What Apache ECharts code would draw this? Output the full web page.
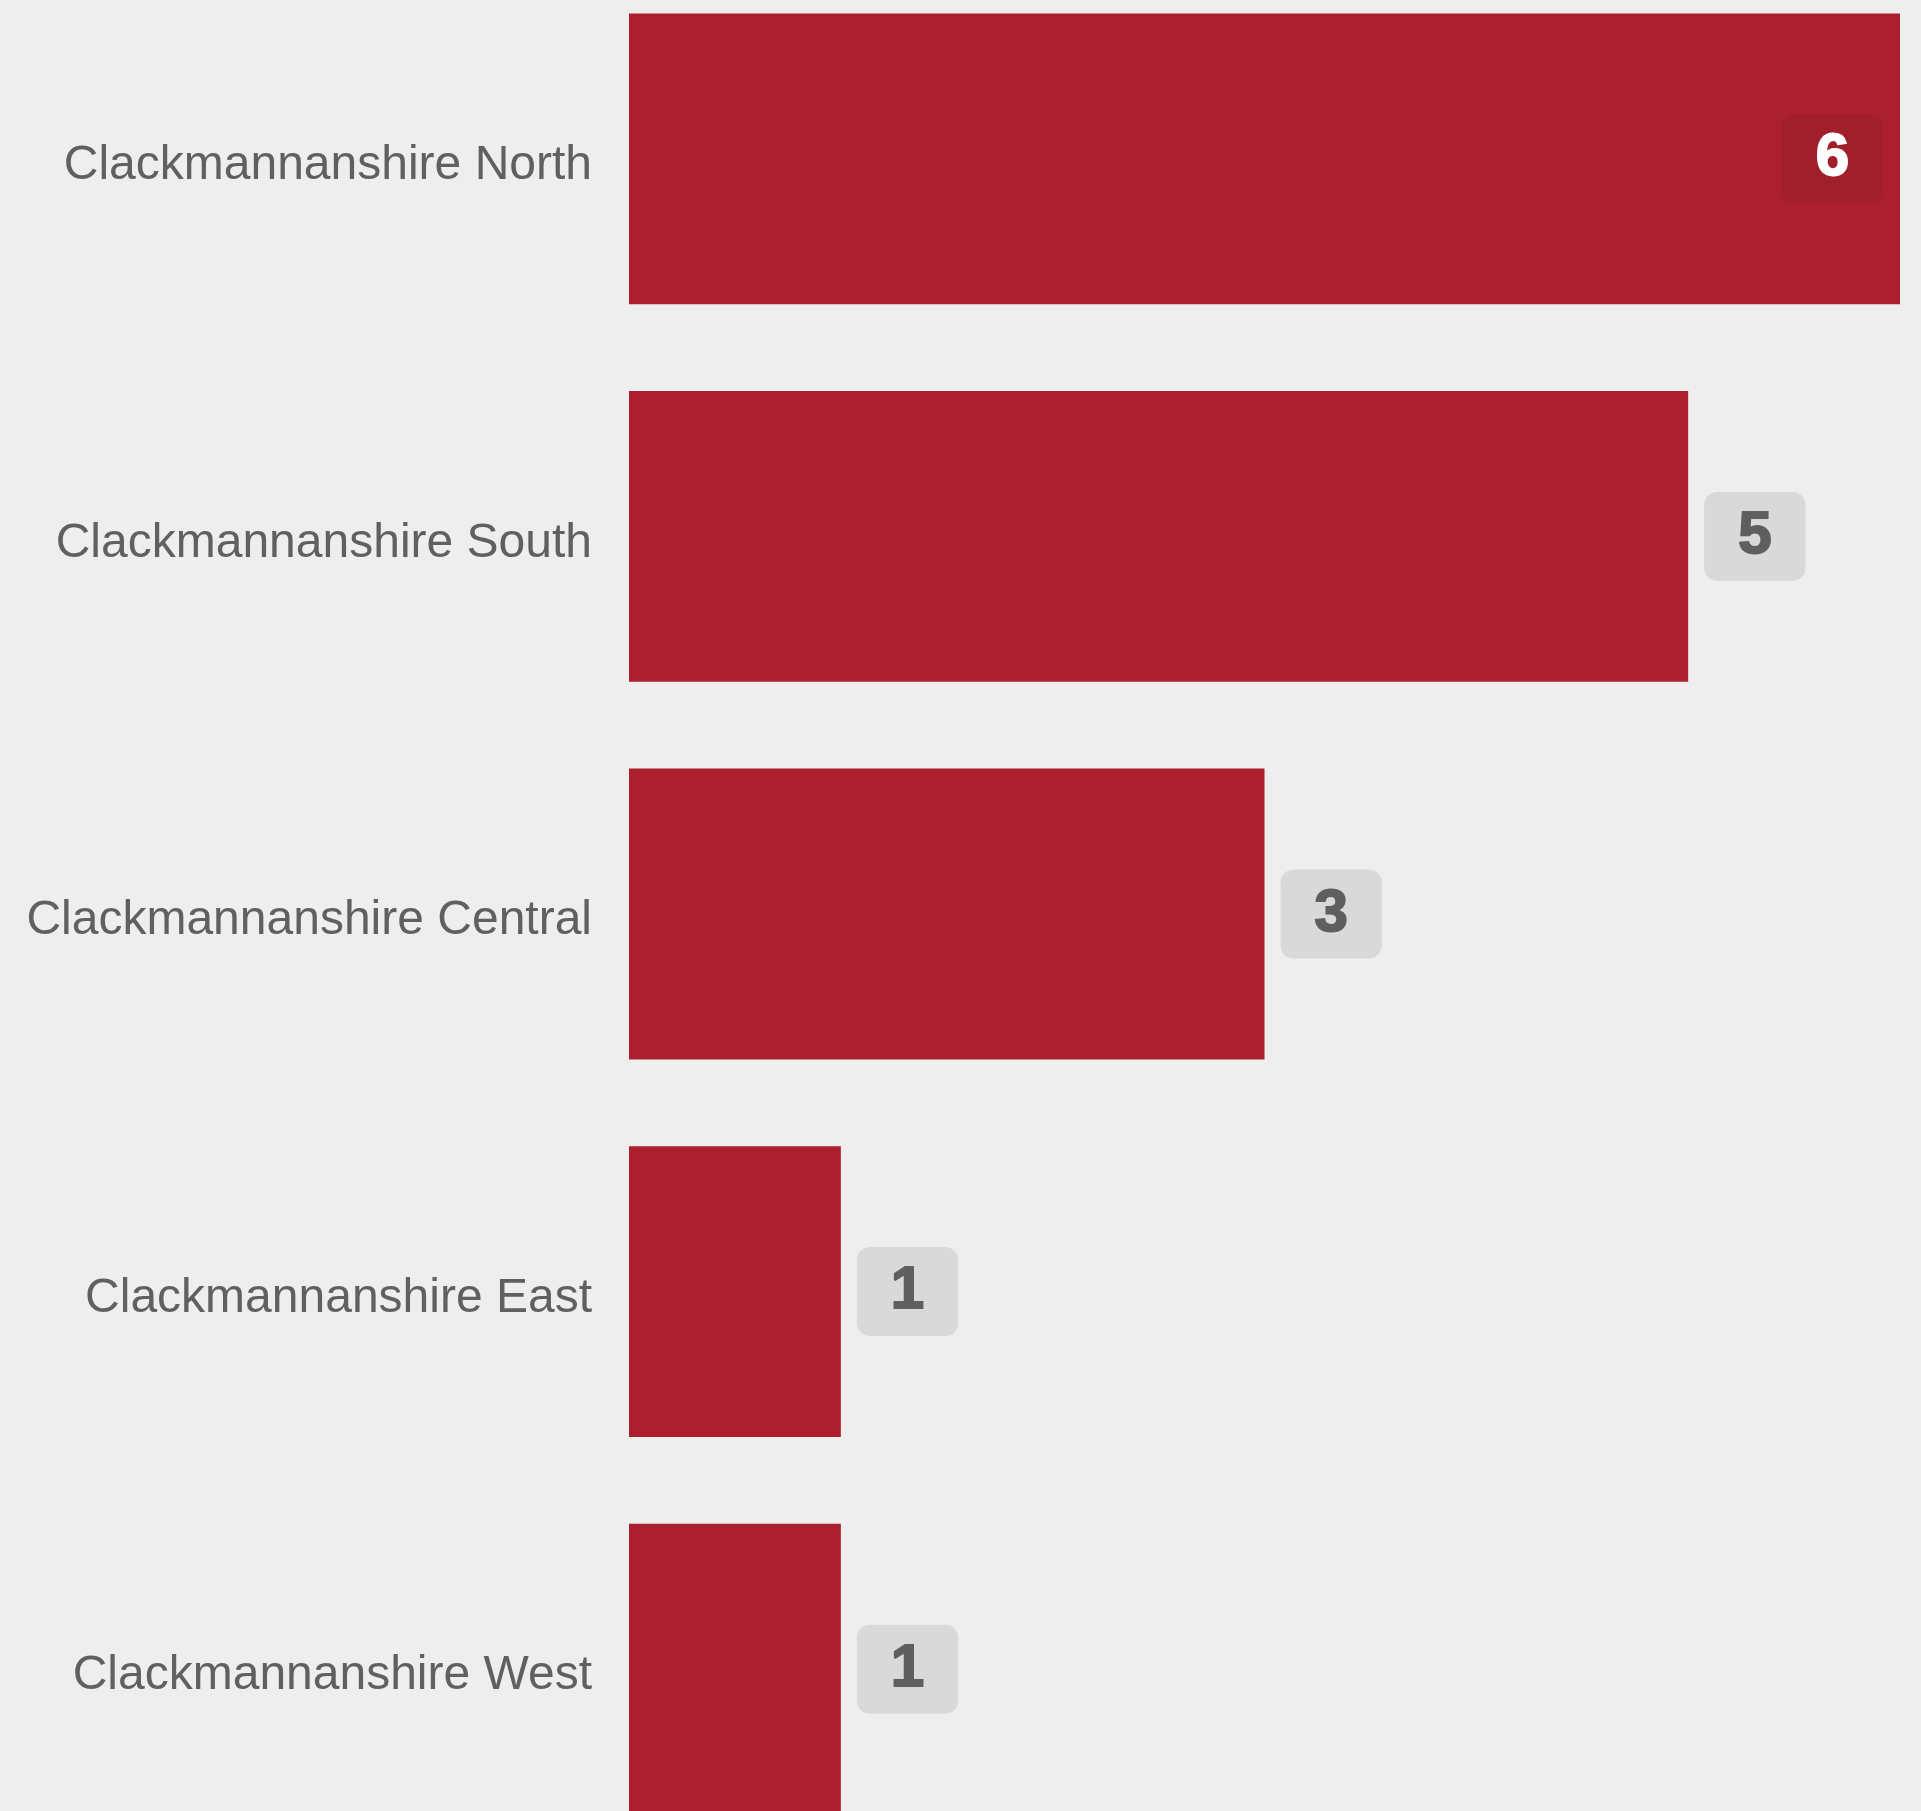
<!DOCTYPE html>
<html>
<head>
<meta charset="utf-8">
<script src="https://cdn.jsdelivr.net/npm/echarts@6/dist/echarts.min.js"></script>
<style>
html,body{margin:0;padding:0;background:#eeeeee;overflow:hidden;width:1921px;height:1811px;}
#chart{position:absolute;left:0;top:-30px;width:1921px;height:1888px;}
</style>
</head>
<body>
<div id="chart"></div>
<script>
const categories = ["Clackmannanshire North","Clackmannanshire South","Clackmannanshire Central","Clackmannanshire East","Clackmannanshire West"];
const values = [6, 5, 3, 1, 1];

const maxVal = Math.max(...values);
const chart = echarts.init(document.getElementById('chart'), null, {renderer:'canvas'});

const outsideLabel = {
  show: true, position: 'right', distance: 16,
  fontFamily: '"Liberation Sans", Arial, sans-serif', fontWeight: 'bold', fontSize: 60,
  lineHeight: 60, color: '#5f5f5f', backgroundColor: '#d9d9d9',
  textBorderColor: '#5f5f5f', textBorderWidth: 2,
  borderRadius: 13, padding: [18, 34, 11, 34]
};
const insideLabel = Object.assign({}, outsideLabel, {
  position: 'insideRight', distance: 17, color: '#ffffff', textBorderColor: '#ffffff', backgroundColor: '#a01f2b'
});

chart.setOption({
  backgroundColor: '#eeeeee',
  animation: false,
  grid: {left: 629, right: 21, top: 0, bottom: 0, containLabel: false},
  xAxis: {type: 'value', min: 0, max: maxVal, show: false},
  yAxis: {
    type: 'category', data: categories, inverse: true,
    axisLine: {show: false}, axisTick: {show: false}, splitLine: {show: false},
    axisLabel: {margin: 37, fontSize: 48, color: '#606060',
      fontFamily: '"Liberation Sans", Arial, sans-serif',
      formatter: v => '{a|' + v + '}',
      rich: {a: {fontSize: 48, color: '#606060', fontFamily: '"Liberation Sans", Arial, sans-serif', padding: [14, 0, 0, 0]}}
    }
  },
  series: [{
    type: 'bar',
    data: values.map(v => ({value: v, label: v === maxVal ? insideLabel : outsideLabel})),
    barCategoryGap: '23%',
    itemStyle: {color: '#ab1f2e'},
    label: outsideLabel
  }]
});
</script>
</body>
</html>
